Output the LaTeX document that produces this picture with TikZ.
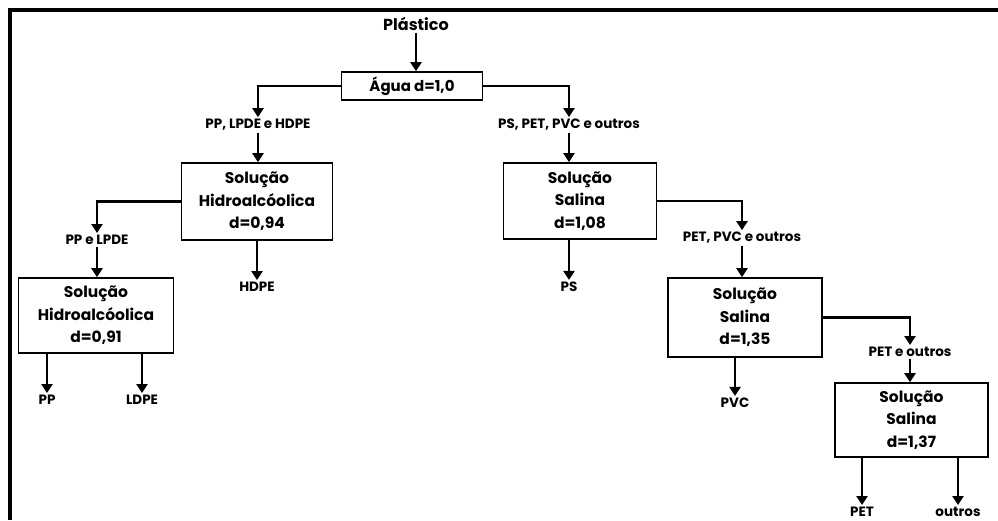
\documentclass[tikz,border=0pt]{standalone}
\usepackage{fontspec}
\setmainfont{Poppins}[BoldFont={* Bold}]
\usepackage{tikz}
\usetikzlibrary{arrows.meta,positioning}
\tikzset{
  % separation tanks
  tank/.style={draw,line width=1.6pt,align=center,inner sep=0pt,
               minimum width=153pt,minimum height=76pt,
               font=\fontsize{15.5}{22.5}\selectfont\bfseries},
  % fractions between tanks
  frac/.style={inner sep=2pt},
  flow/.style={line width=2.6pt,-{Triangle[length=9pt,width=11pt]}},
  frame/.style={line width=4pt},
}
\begin{document}
\begin{tikzpicture}[x=1pt,y=-1pt,
  every node/.style={font=\fontsize{13.5}{22.5}\selectfont\bfseries},
]
\useasboundingbox (0,0) rectangle (998,520);
\draw[frame] (998,10) -- (10,10) -- (10,520);

\node[frac,font=\fontsize{16}{20}\selectfont\bfseries] (plast) at (416,24) {Plástico};
\node[tank,minimum width=141pt,minimum height=28pt,font=\fontsize{15}{20}\selectfont\bfseries] (agua) at (412,86) {Água d=1,0};
\node[frac] (mixA) at (258,125) {PP, LPDE e HDPE};
\node[frac] (mixB) at (569,125) {PS, PET, PVC e outros};
\node[tank,minimum width=151pt,minimum height=77pt] (hid94) at (257,201.5) {Solução\\Hidroalcóolica\\d=0,94};
\node[tank] (sal108) at (580,201) {Solução\\Salina\\d=1,08};
\node[frac] (mixC) at (97,240) {PP e LPDE};
\node[frac] (hdpe) at (257,287) {HDPE};
\node[frac] (mixD) at (742,238) {PET, PVC e outros};
\node[frac] (ps) at (569,287) {PS};
\node[tank,minimum width=155pt,minimum height=75pt] (hid91) at (96,315.5) {Solução\\Hidroalcóolica\\d=0,91};
\node[tank,minimum width=154pt,minimum height=79pt] (sal135) at (745,317.5) {Solução\\Salina\\d=1,35};
\node[frac] (pp) at (47,400) {PP};
\node[frac] (ldpe) at (142,400) {LDPE};
\node[frac] (pvc) at (735,403) {PVC};
\node[frac] (mixE) at (910,352) {PET e outros};
\node[tank,minimum height=74pt] (sal137) at (911.5,420) {Solução\\Salina\\d=1,37};
\node[frac] (pet) at (862,512) {PET};
\node[frac] (outros) at (958,512) {outros};

\draw[flow] (plast.south) -- (plast.south |- agua.north);
\draw[flow] (agua.west) -| (mixA.north);
\draw[flow] (agua.east) -| (mixB.north);
\draw[flow] (mixA.south) -- (mixA.south |- hid94.north);
\draw[flow] (mixB.south) -- (mixB.south |- sal108.north);
\draw[flow] (hid94.west) -| (mixC.north);
\draw[flow] (hid94.south) -- (hdpe.north);
\draw[flow] (sal108.east) -| (mixD.north);
\draw[flow] (sal108.south -| ps) -- (ps.north);
\draw[flow] (mixC.south) -- (mixC.south |- hid91.north);
\draw[flow] (mixD.south) -- (mixD.south |- sal135.north);
\draw[flow] (hid91.south -| pp) -- (pp.north);
\draw[flow] (hid91.south -| ldpe) -- (ldpe.north);
\draw[flow] (sal135.south -| pvc) -- (pvc.north);
\draw[flow] (sal135.east) -| (mixE.north);
\draw[flow] (mixE.south) -- (mixE.south |- sal137.north);
\draw[flow] (sal137.south -| pet) -- (pet.north);
\draw[flow] (sal137.south -| outros) -- (outros.north);
\end{tikzpicture}
\end{document}
